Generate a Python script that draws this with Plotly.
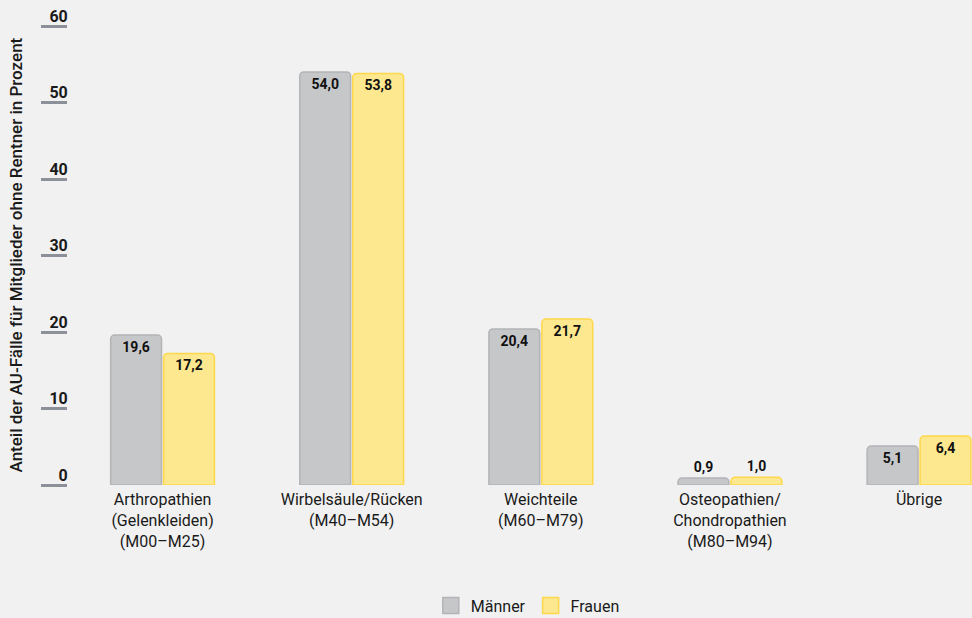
import plotly.graph_objects as go

categories = [
    "Arthropathien<br>(Gelenkleiden)<br>(M00–M25)",
    "Wirbelsäule/Rücken<br>(M40–M54)",
    "Weichteile<br>(M60–M79)",
    "Osteopathien/<br>Chondropathien<br>(M80–M94)",
    "Übrige",
]
maenner = [19.6, 54.0, 20.4, 0.9, 5.1]
frauen = [17.2, 53.8, 21.7, 1.0, 6.4]
y_ticks = [0, 10, 20, 30, 40, 50, 60]

FONT = "Roboto"
BG = "#f1f1f1"
GRAY_FILL, GRAY_LINE = "#c6c7c9", "#b3b4b7"
YEL_FILL, YEL_LINE = "#fee88f", "#fed84a"


def fmt(v):
    return f"{v:.1f}".replace(".", ",")


def positions(vals):
    return ["outside" if v < 3 else "inside" for v in vals]


fig = go.Figure()
for name, vals, fill, line in [
    ("Männer", maenner, GRAY_FILL, GRAY_LINE),
    ("Frauen", frauen, YEL_FILL, YEL_LINE),
]:
    fig.add_trace(go.Bar(
        x=categories, y=vals, name=name, showlegend=False,
        marker=dict(color=fill, line=dict(color=line, width=1.5), cornerradius=4),
        text=[fmt(v) for v in vals],
        textposition=positions(vals),
        insidetextanchor="end",
        textfont=dict(family=FONT, size=14, color="#111111", weight="bold"),
        cliponaxis=False,
    ))
    # legend swatch
    fig.add_trace(go.Scatter(
        x=[None], y=[None], mode="markers", name=name,
        marker=dict(symbol="square", size=18, color=fill,
                    line=dict(color=line, width=1.5)),
    ))

fig.update_layout(
    width=972, height=618,
    margin=dict(l=68, r=0, t=26, b=133),
    paper_bgcolor=BG, plot_bgcolor=BG,
    barmode="group", bargap=0.44, bargroupgap=0.04,
    font=dict(family=FONT, size=16, color="#1a1a1a"),
    showlegend=True,
    legend=dict(orientation="h", x=0.543, xref="container", xanchor="center",
                y=0.02, yref="container", yanchor="middle",
                font=dict(family=FONT, size=16, color="#1a1a1a"),
                itemwidth=30, tracegroupgap=0),
    uniformtext=dict(minsize=14, mode="show"),
)
fig.update_xaxes(
    range=[-0.5, 4.28], showgrid=False, zeroline=False, showline=False,
    ticks="", ticklabelstandoff=3,
    tickfont=dict(family=FONT, size=16, color="#1a1a1a"),
)
fig.update_yaxes(
    range=[0, 60], tickvals=y_ticks, showgrid=False, zeroline=False,
    showline=False, ticks="outside", ticklen=26, tickwidth=2.5,
    tickcolor="#8b9099",
    ticklabelstandoff=-30, ticklabelshift=-10,
    tickfont=dict(family=FONT, size=16, color="#1a1a1a", weight="bold"),
)
fig.add_annotation(
    text="Anteil der AU-Fälle für Mitglieder ohne Rentner in Prozent",
    xref="paper", yref="paper", x=0, y=0.5, xshift=-53,
    xanchor="center", yanchor="middle", textangle=-90, showarrow=False,
    font=dict(family=FONT, size=17, color="#1a1a1a", weight=500),
)

fig.write_html("out.html")
